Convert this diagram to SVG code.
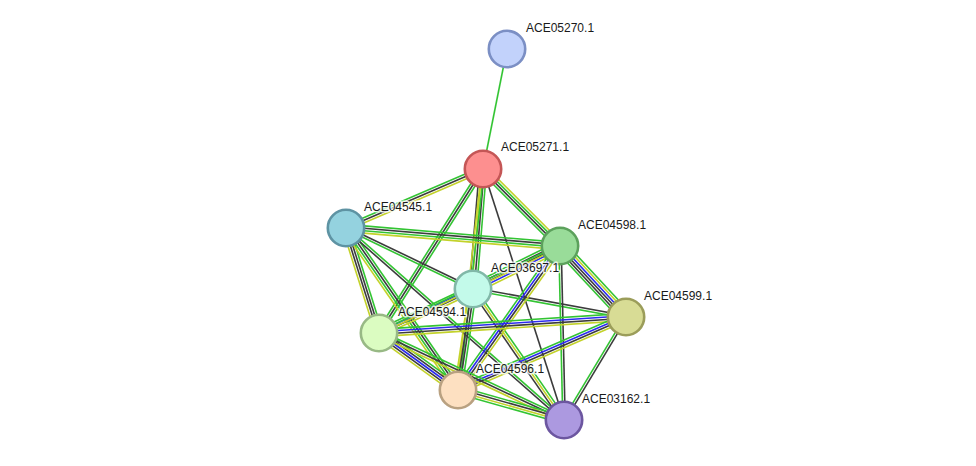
<svg xmlns="http://www.w3.org/2000/svg" width="976" height="466" viewBox="0 0 976 466">
<style>
line{stroke-width:1.6;fill:none}
.g{stroke:#33c433}.k{stroke:#3c3c3c}.y{stroke:#c3d22a}.b{stroke:#2b2bf0}
.node circle{stroke-width:2.6}
.node text{font-family:"Liberation Sans",Arial,sans-serif;font-size:12px;fill:#1a1a1a;stroke:#fff;stroke-width:3;stroke-opacity:0.8;paint-order:stroke;stroke-linejoin:round}
</style>
<rect width="976" height="466" fill="#fff"/>
<g id="connectors">
<!-- A-B -->
<line class="g" x1="507" y1="49" x2="483" y2="169"/>
<!-- B-C -->
<g><line class="g" x1="483" y1="169" x2="346" y2="228" transform="translate(-0.95,-2.2)"/><line class="k" x1="483" y1="169" x2="346" y2="228"/><line class="y" x1="483" y1="169" x2="346" y2="228" transform="translate(0.95,2.2)"/></g>
<!-- B-D -->
<g><line class="y" x1="483" y1="169" x2="560" y2="246" transform="translate(2.55,-2.55)"/><line class="g" x1="483" y1="169" x2="560" y2="246" transform="translate(0.85,-0.85)"/><line class="k" x1="483" y1="169" x2="560" y2="246" transform="translate(-0.85,0.85)"/><line class="g" x1="483" y1="169" x2="560" y2="246" transform="translate(-2.55,2.55)"/></g>
<!-- B-E -->
<g><line class="g" x1="483" y1="169" x2="473" y2="289" transform="translate(3.59,0.3)"/><line class="k" x1="483" y1="169" x2="473" y2="289" transform="translate(1.2,0.1)"/><line class="y" x1="483" y1="169" x2="473" y2="289" transform="translate(-1.2,-0.1)"/><line class="k" x1="483" y1="169" x2="473" y2="289" transform="translate(-3.59,-0.3)"/></g>
<!-- B-G -->
<g><line class="g" x1="483" y1="169" x2="379" y2="333" transform="translate(2.03,1.29)"/><line class="k" x1="483" y1="169" x2="379" y2="333"/><line class="g" x1="483" y1="169" x2="379" y2="333" transform="translate(-2.03,-1.29)"/></g>
<!-- B-H -->
<g><line class="g" x1="483" y1="169" x2="458" y2="390" transform="translate(1.19,0.14)"/><line class="y" x1="483" y1="169" x2="458" y2="390" transform="translate(-1.19,-0.14)"/></g>
<!-- B-I -->
<line class="k" x1="483" y1="169" x2="564" y2="420"/>
<!-- C-D -->
<g><line class="g" x1="346" y1="228" x2="560" y2="246" transform="translate(0.3,-3.59)"/><line class="k" x1="346" y1="228" x2="560" y2="246" transform="translate(0.1,-1.2)"/><line class="g" x1="346" y1="228" x2="560" y2="246" transform="translate(-0.1,1.2)"/><line class="y" x1="346" y1="228" x2="560" y2="246" transform="translate(-0.3,3.59)"/></g>
<!-- C-E -->
<g><line class="k" x1="346" y1="228" x2="473" y2="289" transform="translate(0.52,-1.08)"/><line class="g" x1="346" y1="228" x2="473" y2="289" transform="translate(-0.52,1.08)"/></g>
<!-- C-G -->
<g><line class="g" x1="346" y1="228" x2="379" y2="333" transform="translate(3.44,-1.08)"/><line class="k" x1="346" y1="228" x2="379" y2="333" transform="translate(1.15,-0.36)"/><line class="k" x1="346" y1="228" x2="379" y2="333" transform="translate(-1.15,0.36)"/><line class="y" x1="346" y1="228" x2="379" y2="333" transform="translate(-3.44,1.08)"/></g>
<!-- C-H -->
<g><line class="g" x1="346" y1="228" x2="458" y2="390" transform="translate(2.96,-2.06)"/><line class="k" x1="346" y1="228" x2="458" y2="390" transform="translate(0.99,-0.69)"/><line class="g" x1="346" y1="228" x2="458" y2="390" transform="translate(-0.99,0.69)"/><line class="y" x1="346" y1="228" x2="458" y2="390" transform="translate(-2.96,2.06)"/></g>
<!-- C-I -->
<g><line class="g" x1="346" y1="228" x2="564" y2="420" transform="translate(0.8,-0.9)"/><line class="k" x1="346" y1="228" x2="564" y2="420" transform="translate(-0.8,0.9)"/></g>
<!-- E-D -->
<g><line class="g" x1="473" y1="289" x2="560" y2="246" transform="translate(-2.12,-4.3)"/><line class="k" x1="473" y1="289" x2="560" y2="246" transform="translate(-1.06,-2.15)"/><line class="k" x1="473" y1="289" x2="560" y2="246"/><line class="b" x1="473" y1="289" x2="560" y2="246" transform="translate(1.06,2.15)"/><line class="y" x1="473" y1="289" x2="560" y2="246" transform="translate(2.12,4.3)"/></g>
<!-- E-F -->
<g><line class="k" x1="473" y1="289" x2="626" y2="317" transform="translate(0.22,-1.18)"/><line class="g" x1="473" y1="289" x2="626" y2="317" transform="translate(-0.22,1.18)"/></g>
<!-- E-G -->
<g><line class="y" x1="473" y1="289" x2="379" y2="333" transform="translate(1.53,3.26)"/><line class="k" x1="473" y1="289" x2="379" y2="333" transform="translate(0.51,1.09)"/><line class="b" x1="473" y1="289" x2="379" y2="333" transform="translate(-0.51,-1.09)"/><line class="g" x1="473" y1="289" x2="379" y2="333" transform="translate(-1.53,-3.26)"/></g>
<!-- E-H -->
<g><line class="g" x1="473" y1="289" x2="458" y2="390" transform="translate(3.56,0.53)"/><line class="k" x1="473" y1="289" x2="458" y2="390" transform="translate(1.19,0.18)"/><line class="k" x1="473" y1="289" x2="458" y2="390" transform="translate(-1.19,-0.18)"/><line class="y" x1="473" y1="289" x2="458" y2="390" transform="translate(-3.56,-0.53)"/></g>
<!-- E-I -->
<g><line class="g" x1="473" y1="289" x2="564" y2="420" transform="translate(1.97,-1.37)"/><line class="y" x1="473" y1="289" x2="564" y2="420"/><line class="k" x1="473" y1="289" x2="564" y2="420" transform="translate(-1.97,1.37)"/></g>
<!-- D-F -->
<g><line class="g" x1="560" y1="246" x2="626" y2="317" transform="translate(4.4,-4.08)"/><line class="y" x1="560" y1="246" x2="626" y2="317" transform="translate(2.64,-2.45)"/><line class="b" x1="560" y1="246" x2="626" y2="317" transform="translate(0.88,-0.82)"/><line class="k" x1="560" y1="246" x2="626" y2="317" transform="translate(-0.88,0.82)"/><line class="k" x1="560" y1="246" x2="626" y2="317" transform="translate(-2.64,2.45)"/><line class="g" x1="560" y1="246" x2="626" y2="317" transform="translate(-4.4,4.08)"/></g>
<!-- D-I -->
<g><line class="k" x1="560" y1="246" x2="564" y2="420" transform="translate(1.2,-0.03)"/><line class="g" x1="560" y1="246" x2="564" y2="420" transform="translate(-1.2,0.03)"/></g>
<!-- D-H -->
<g><line class="y" x1="560" y1="246" x2="458" y2="390" transform="translate(2.94,2.09)"/><line class="k" x1="560" y1="246" x2="458" y2="390" transform="translate(0.98,0.7)"/><line class="b" x1="560" y1="246" x2="458" y2="390" transform="translate(-0.98,-0.7)"/><line class="g" x1="560" y1="246" x2="458" y2="390" transform="translate(-2.94,-2.09)"/></g>
<!-- D-G -->
<g><line class="y" x1="560" y1="246" x2="379" y2="333" transform="translate(0.52,1.08)"/><line class="g" x1="560" y1="246" x2="379" y2="333" transform="translate(-0.52,-1.08)"/></g>
<!-- F-G -->
<g><line class="y" x1="626" y1="317" x2="379" y2="333" transform="translate(0.24,3.6)"/><line class="k" x1="626" y1="317" x2="379" y2="333" transform="translate(0.08,1.2)"/><line class="b" x1="626" y1="317" x2="379" y2="333" transform="translate(-0.08,-1.2)"/><line class="g" x1="626" y1="317" x2="379" y2="333" transform="translate(-0.24,-3.6)"/></g>
<!-- F-H -->
<g><line class="y" x1="626" y1="317" x2="458" y2="390" transform="translate(1.44,3.3)"/><line class="k" x1="626" y1="317" x2="458" y2="390" transform="translate(0.48,1.1)"/><line class="b" x1="626" y1="317" x2="458" y2="390" transform="translate(-0.48,-1.1)"/><line class="g" x1="626" y1="317" x2="458" y2="390" transform="translate(-1.44,-3.3)"/></g>
<!-- F-I -->
<g><line class="k" x1="626" y1="317" x2="564" y2="420" transform="translate(1.03,0.62)"/><line class="g" x1="626" y1="317" x2="564" y2="420" transform="translate(-1.03,-0.62)"/></g>
<!-- G-H -->
<g><line class="g" x1="379" y1="333" x2="458" y2="390" transform="translate(2.8,-3.9)"/><line class="k" x1="379" y1="333" x2="458" y2="390" transform="translate(1.4,-1.95)"/><line class="b" x1="379" y1="333" x2="458" y2="390"/><line class="k" x1="379" y1="333" x2="458" y2="390" transform="translate(-1.4,1.95)"/><line class="y" x1="379" y1="333" x2="458" y2="390" transform="translate(-2.8,3.9)"/></g>
<!-- G-I -->
<g><line class="g" x1="379" y1="333" x2="564" y2="420" transform="translate(1.02,-2.17)"/><line class="k" x1="379" y1="333" x2="564" y2="420"/><line class="y" x1="379" y1="333" x2="564" y2="420" transform="translate(-1.02,2.17)"/></g>
<!-- H-I -->
<g><line class="g" x1="458" y1="390" x2="564" y2="420" transform="translate(0.98,-3.47)"/><line class="k" x1="458" y1="390" x2="564" y2="420" transform="translate(0.33,-1.16)"/><line class="y" x1="458" y1="390" x2="564" y2="420" transform="translate(-0.33,1.16)"/><line class="g" x1="458" y1="390" x2="564" y2="420" transform="translate(-0.98,3.47)"/></g>
</g>
<g id="ACE05270.1" class="node"><circle cx="507" cy="49" r="18.2" fill="#c2d2fb" stroke="#7b8fc4"/><text x="526" y="32">ACE05270.1</text></g>
<g id="ACE05271.1" class="node"><circle cx="483" cy="169" r="18.2" fill="#fd8f8f" stroke="#c45656"/><text x="501" y="151">ACE05271.1</text></g>
<g id="ACE04545.1" class="node"><circle cx="346" cy="228" r="18.2" fill="#94d2df" stroke="#5e93a3"/><text x="364" y="211">ACE04545.1</text></g>
<g id="ACE04598.1" class="node"><circle cx="560" cy="246" r="18.2" fill="#99dc99" stroke="#5ca15c"/><text x="578" y="229">ACE04598.1</text></g>
<g id="ACE03697.1" class="node"><circle cx="473" cy="289" r="18.2" fill="#c3faea" stroke="#81b8a8"/><text x="491" y="272">ACE03697.1</text></g>
<g id="ACE04599.1" class="node"><circle cx="626" cy="317" r="18.2" fill="#d8dc95" stroke="#9b9d5a"/><text x="644" y="300">ACE04599.1</text></g>
<g id="ACE04594.1" class="node"><circle cx="379" cy="333" r="18.2" fill="#dbfcc1" stroke="#98b985"/><text x="398" y="316">ACE04594.1</text></g>
<g id="ACE04596.1" class="node"><circle cx="458" cy="390" r="18.2" fill="#fde0c1" stroke="#b9a181"/><text x="476" y="373">ACE04596.1</text></g>
<g id="ACE03162.1" class="node"><circle cx="564" cy="420" r="18.2" fill="#ac99e0" stroke="#6c56a0"/><text x="582" y="403">ACE03162.1</text></g>
</svg>
